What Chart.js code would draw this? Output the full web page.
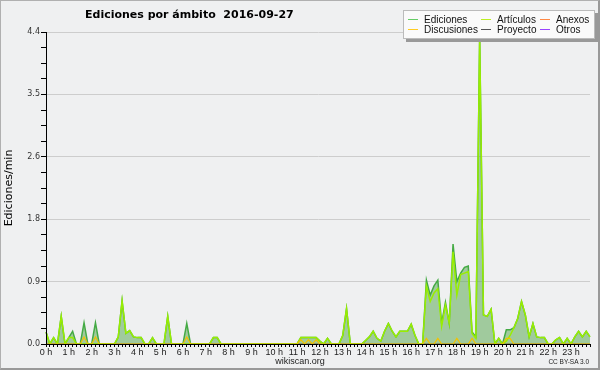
<!DOCTYPE html>
<html>
<head>
<meta charset="utf-8">
<script src="https://cdn.jsdelivr.net/npm/chart.js@4"></script>
<style>
  body { margin: 0; background: #fff; }
  #wrap { position: relative; width: 600px; height: 370px; background: #eff0f1; font-family: 'Liberation Sans', sans-serif; overflow: hidden; }
  #grafico { position: absolute; left: 0; top: 0; }
  #marco { position: absolute; left: 0; top: 0; right: 0; bottom: 0; border: 1px solid #b0b0b0; border-right: 2px solid #999; border-bottom: 2px solid #999; pointer-events: none; }
  .txt { position: absolute; white-space: pre; color: #000; }
  #titulo { left: 85px; top: 8px; font: bold 11px/13px 'DejaVu Sans', sans-serif; }
  #leyenda { position: absolute; left: 403px; top: 10px; width: 190px; height: 27px; background: #fafafa; border: 1px solid #bbb; box-shadow: 3px 3px 0 #999; }
  .muestra { position: absolute; width: 10px; height: 1px; }
  .ley { font-size: 10px; line-height: 10px; color: #111; }
  #web { left: 0; width: 600px; text-align: center; top: 356px; font-size: 9px; line-height: 10px; color: #222; }
  #cc { right: 11px; top: 358px; font-size: 6.5px; line-height: 7px; color: #222; }
</style>
</head>
<body>
<div id="wrap">
  <canvas id="grafico" width="600" height="370"></canvas>
  <div id="titulo" class="txt">Ediciones por ámbito  2016-09-27</div>
  <div id="leyenda"></div>
  <div class="muestra" style="left:408px;top:19px;background:#66cc66"></div>
  <div class="txt ley" style="left:424px;top:15px">Ediciones</div>
  <div class="muestra" style="left:481px;top:19px;background:#bbee22"></div>
  <div class="txt ley" style="left:497px;top:15px">Artículos</div>
  <div class="muestra" style="left:540px;top:19px;background:#ff8844"></div>
  <div class="txt ley" style="left:556px;top:15px">Anexos</div>
  <div class="muestra" style="left:408px;top:29px;background:#ffcc22"></div>
  <div class="txt ley" style="left:424px;top:24.5px">Discusiones</div>
  <div class="muestra" style="left:481px;top:29px;background:#555"></div>
  <div class="txt ley" style="left:497px;top:24.5px">Proyecto</div>
  <div class="muestra" style="left:540px;top:29px;background:#9944ff"></div>
  <div class="txt ley" style="left:556px;top:24.5px">Otros</div>
  <div id="web" class="txt">wikiscan.org</div>
  <div id="cc" class="txt">CC BY-SA 3.0</div>
  <div id="marco"></div>
</div>
<script>
// una muestra cada 10 minutos, 00:00 -> 23:50
const horas = Array.from({ length: 144 }, (_, i) =>
  String(Math.floor(i / 6)).padStart(2, '0') + ':' + String((i % 6) * 10).padStart(2, '0'));

const ediciones = [
  0.17, 0, 0.09, 0, 0.39, 0, 0.09, 0.18, 0, 0, 0.30, 0,
  0, 0.30, 0, 0, 0, 0, 0, 0.1, 0.61, 0.15, 0.19, 0.1,
  0.09, 0.09, 0, 0, 0.09, 0, 0, 0, 0.39, 0, 0, 0,
  0, 0.29, 0, 0, 0, 0, 0, 0, 0.09, 0.09, 0, 0,
  0, 0, 0, 0, 0, 0, 0, 0, 0, 0, 0, 0,
  0, 0, 0, 0, 0, 0, 0, 0.09, 0.09, 0.09, 0.09, 0.09,
  0.04, 0, 0.08, 0, 0, 0, 0.12, 0.5, 0, 0, 0, 0,
  0.05, 0.1, 0.18, 0.08, 0.04, 0.18, 0.29, 0.18, 0.1, 0.18, 0.18, 0.18,
  0.28, 0.12, 0, 0, 0.9, 0.69, 0.82, 0.9, 0.29, 0.59, 0.29, 1.41,
  0.88, 1.0, 1.08, 1.1, 0.17, 0.1, 4.35, 0.41, 0.39, 0.49, 0, 0.08,
  0, 0.2, 0.2, 0.23, 0.36, 0.6, 0.41, 0.1, 0.29, 0.1, 0.09, 0.09,
  0, 0, 0.06, 0.09, 0, 0.08, 0, 0.1, 0.18, 0.1, 0.18, 0.1
];

const articulos = [
  0.17, 0, 0.09, 0, 0.39, 0, 0.09, 0.09, 0, 0, 0, 0,
  0, 0, 0, 0, 0, 0, 0, 0.1, 0.61, 0.15, 0.19, 0.1,
  0.09, 0.09, 0, 0, 0.09, 0, 0, 0, 0.39, 0, 0, 0,
  0, 0, 0, 0, 0, 0, 0, 0, 0.09, 0.09, 0, 0,
  0, 0, 0, 0, 0, 0, 0, 0, 0, 0, 0, 0,
  0, 0, 0, 0, 0, 0, 0, 0.09, 0.09, 0.09, 0.09, 0.09,
  0.04, 0, 0.08, 0, 0, 0, 0.12, 0.5, 0, 0, 0, 0,
  0.05, 0.1, 0.18, 0.08, 0.04, 0.18, 0.29, 0.18, 0.1, 0.18, 0.18, 0.18,
  0.28, 0.12, 0, 0, 0.82, 0.6, 0.72, 0.78, 0.25, 0.55, 0.29, 1.3,
  0.69, 0.98, 1.0, 1.02, 0.15, 0.08, 4.3, 0.41, 0.39, 0.49, 0, 0.08,
  0, 0.04, 0.12, 0.23, 0.36, 0.6, 0.41, 0.1, 0.29, 0.1, 0.09, 0.09,
  0, 0, 0.06, 0.09, 0, 0.08, 0, 0.1, 0.18, 0.1, 0.18, 0.1
];

const discusiones = [
  0, 0, 0, 0, 0, 0, 0, 0, 0, 0, 0.1, 0,
  0, 0.1, 0, 0, 0, 0, 0, 0, 0, 0, 0, 0,
  0, 0, 0, 0, 0, 0, 0, 0, 0, 0, 0, 0,
  0, 0.1, 0, 0, 0, 0, 0, 0, 0, 0, 0, 0,
  0, 0, 0, 0, 0, 0, 0, 0, 0, 0, 0, 0,
  0, 0, 0, 0, 0, 0, 0, 0.06, 0, 0.06, 0, 0.06,
  0, 0, 0, 0, 0, 0, 0, 0, 0, 0, 0, 0,
  0, 0, 0, 0, 0, 0, 0, 0, 0, 0, 0, 0,
  0, 0, 0, 0, 0.08, 0, 0, 0.08, 0, 0, 0, 0,
  0.08, 0, 0, 0, 0.08, 0, 0, 0, 0, 0, 0, 0,
  0, 0.08, 0.08, 0, 0, 0, 0, 0, 0, 0, 0, 0,
  0, 0, 0, 0, 0, 0, 0, 0, 0, 0, 0, 0
];

const anexos = new Array(144).fill(0);
const proyecto = new Array(144).fill(0);
const otros = new Array(144).fill(0);

const maxY = 4.4;
const pasoY = 0.22;   // marcas menores; etiqueta cada 4

function linea(label, data, color, ancho) {
  return { label, data, borderColor: color, borderWidth: ancho, pointRadius: 0, tension: 0, fill: false };
}

new Chart(document.getElementById('grafico'), {
  type: 'line',
  data: {
    labels: horas,
    datasets: [
      linea('Discusiones', discusiones, '#f2c200', 1.2),
      linea('Artículos', articulos, '#99ee00', 1.5),
      Object.assign(linea('Ediciones', ediciones, '#44aa44', 1.5),
        { fill: 'origin', backgroundColor: 'rgba(95,172,88,0.55)' }),
      linea('Anexos', anexos, '#ff8844', 1),
      linea('Proyecto', proyecto, '#555555', 1),
      linea('Otros', otros, '#9944ff', 1)
    ]
  },
  options: {
    responsive: false,
    animation: false,
    layout: { padding: { top: 32, right: 10, left: 0, bottom: 0 } },
    plugins: { legend: { display: false }, tooltip: { enabled: false } },
    scales: {
      x: {
        type: 'category',
        offset: false,
        afterFit: s => { s.height = 26; },
        border: { color: '#000', z: 1 },
        grid: { drawOnChartArea: false, tickLength: 3, tickColor: '#000' },
        ticks: {
          autoSkip: false, maxRotation: 0, minRotation: 0, padding: 0,
          color: '#222', font: { family: 'Liberation Sans', size: 9 },
          callback: (v, i) => i % 6 === 0 ? (i / 6) + ' h' : ''
        }
      },
      y: {
        min: 0, max: maxY,
        afterFit: s => { s.width = 46; },
        border: { color: '#000', z: 1 },
        grid: {
          tickLength: 5, tickColor: '#000',
          color: c => (c.index % 4 === 0 && c.index > 0) ? '#cdcdcd' : 'rgba(0,0,0,0)'
        },
        ticks: {
          stepSize: pasoY, autoSkip: false, padding: 1,
          color: '#333', font: { family: 'DejaVu Sans', size: 8 },
          callback: (v, i) => i % 4 === 0 ? v.toFixed(1) : ''
        },
        title: {
          display: true, text: 'Ediciones/min', color: '#000',
          font: { family: 'DejaVu Sans', size: 11 }, padding: { top: 3, bottom: 0 }
        }
      }
    }
  }
});
</script>
</body>
</html>
